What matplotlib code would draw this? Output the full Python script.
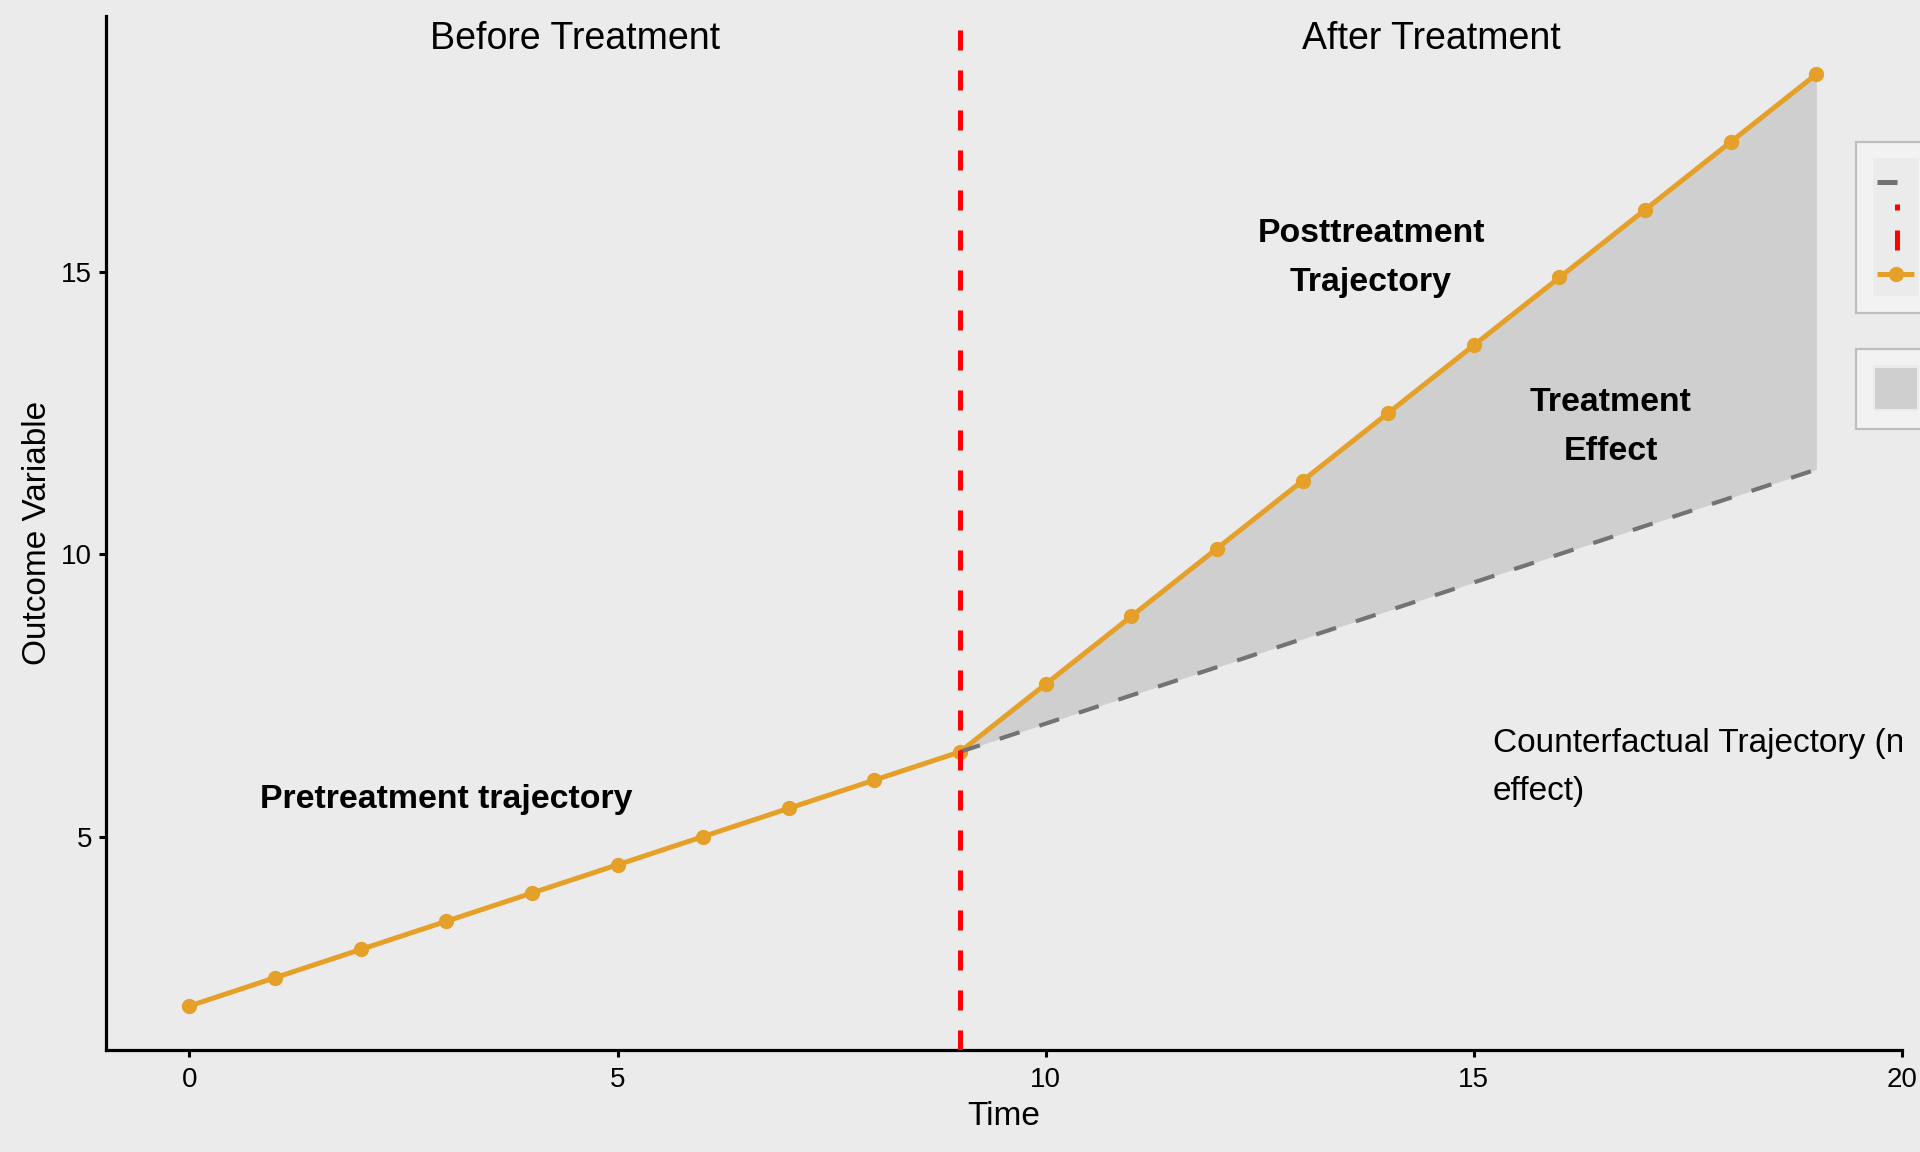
import matplotlib.pyplot as plt
from matplotlib.patches import Rectangle
from matplotlib.lines import Line2D

plt.rcParams['font.family'] = ['Liberation Sans', 'DejaVu Sans']

# datos
time = [0, 1, 2, 3, 4, 5, 6, 7, 8, 9, 10, 11, 12, 13, 14, 15, 16, 17, 18, 19]
observed = [2.0, 2.5, 3.0, 3.5, 4.0, 4.5, 5.0, 5.5, 6.0, 6.5,
            7.7, 8.9, 10.1, 11.3, 12.5, 13.7, 14.9, 16.1, 17.3, 18.5]
time_post = [9, 10, 11, 12, 13, 14, 15, 16, 17, 18, 19]
counterfactual = [6.5, 7.0, 7.5, 8.0, 8.5, 9.0, 9.5, 10.0, 10.5, 11.0, 11.5]
observed_post = observed[9:]
treatment_time = 9
xticks = [0, 5, 10, 15, 20]
yticks = [5, 10, 15]

bg = '#EBEBEB'
orange = '#E5A02A'
W, H = 1920, 1152

fig = plt.figure(figsize=(19.2, 11.52), dpi=100, facecolor=bg)
ax = fig.add_axes([106 / W, 1 - 1050 / H, (1902 - 106) / W, (1050 - 16) / H])
ax.set_facecolor(bg)

# efecto del tratamiento (area)
ax.fill_between(time_post, counterfactual, observed_post, color='#CFCFCF', linewidth=0, zorder=1)
ax.plot(time, observed, color=orange, lw=3.6, marker='o', markersize=10, zorder=2)
ax.plot(time_post, counterfactual, color='#737373', lw=3.0, dashes=(5, 5), zorder=3)
ax.axvline(treatment_time, color='red', lw=3.6, dashes=(4, 4), zorder=4)

ax.set_xlim(-0.975, 20)
ax.set_ylim(1.22, 19.53)
ax.set_xticks(xticks)
ax.set_yticks(yticks)
for s in ['top', 'right']:
    ax.spines[s].set_visible(False)
for s in ['left', 'bottom']:
    ax.spines[s].set_linewidth(2.3)
    ax.spines[s].set_color('black')
ax.tick_params(direction='out', length=5, width=2.2, labelsize=20, colors='black')
ax.tick_params(axis='x', pad=7)
ax.tick_params(axis='y', pad=5)
ax.set_xlabel('Time', fontsize=24, labelpad=6)
ax.set_ylabel('Outcome Variable', fontsize=24, labelpad=6)

# anotaciones (va='baseline' -> linea de base de la ultima linea)
ax.text(4.5, 18.94, 'Before Treatment', fontsize=27, ha='center', va='baseline')
ax.text(14.5, 18.94, 'After Treatment', fontsize=27, ha='center', va='baseline')
ax.text(3.0, 5.5, 'Pretreatment trajectory', fontsize=24.4, fontweight='bold',
        ha='center', va='baseline')
ax.text(13.8, 14.66, 'Posttreatment\nTrajectory', fontsize=24.4, fontweight='bold',
        ha='center', va='baseline', multialignment='center', linespacing=1.73)
ax.text(16.6, 11.67, 'Treatment\nEffect', fontsize=24.4, fontweight='bold',
        ha='center', va='baseline', multialignment='center', linespacing=1.73)
ax.text(15.22, 5.64, 'Counterfactual Trajectory (no\neffect)', fontsize=24,
        ha='left', va='baseline', linespacing=1.73, clip_on=True)


# leyenda (recortada por el borde derecho)
def fx(x):
    return x / W


def fy(y):
    return 1 - y / H


def box(x0, y0, x1, y1, **kw):
    fig.add_artist(Rectangle((fx(x0), fy(y1)), fx(x1) - fx(x0), fy(y0) - fy(y1),
                             transform=fig.transFigure, **kw))


box(1856, 142, 1930, 313, facecolor='#F2F2F2', edgecolor='#BEBEBE', lw=1.6)
box(1873, 158, 1919, 296, facecolor=bg, edgecolor='none')
fig.add_artist(Line2D([fx(1877), fx(1897)], [fy(181.5)] * 2, color='#737373', lw=3.6,
                      solid_capstyle='butt', transform=fig.transFigure))
fig.add_artist(Line2D([fx(1896.5)] * 2, [fy(204), fy(210)], color='red', lw=3.6,
                      solid_capstyle='butt', transform=fig.transFigure))
fig.add_artist(Line2D([fx(1896.5)] * 2, [fy(230), fy(250)], color='red', lw=3.6,
                      solid_capstyle='butt', transform=fig.transFigure))
fig.add_artist(Line2D([fx(1877), fx(1914)], [fy(273.5)] * 2, color=orange, lw=3.6,
                      solid_capstyle='butt', transform=fig.transFigure))
fig.add_artist(Line2D([fx(1896)], [fy(273.5)], color=orange, marker='o', markersize=10,
                      lw=0, transform=fig.transFigure))

box(1856, 349, 1930, 429, facecolor='#F2F2F2', edgecolor='#BEBEBE', lw=1.6)
box(1873, 365, 1919, 411, facecolor=bg, edgecolor='none')
box(1875, 368, 1917, 409, facecolor='#CFCFCF', edgecolor='none')

fig.savefig('out.png', dpi=100, facecolor=bg)
